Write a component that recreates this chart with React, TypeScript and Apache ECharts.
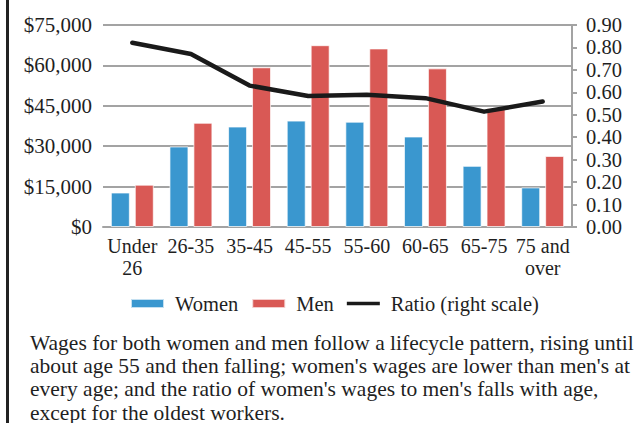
import React, { useEffect, useRef } from "react";
import * as echarts from "echarts";

const categories = ["Under\n26", "26-35", "35-45", "45-55", "55-60", "60-65", "65-75", "75 and\nover"];
const women = [12800, 29900, 37300, 39500, 39100, 33600, 22700, 14700];
const men = [15700, 38700, 59300, 67500, 66300, 58900, 44100, 26400];
const ratio = [0.821, 0.771, 0.63, 0.584, 0.589, 0.574, 0.514, 0.559];
const captionLines = [
  "Wages for both women and men follow a lifecycle pattern, rising until",
  "about age 55 and then falling; women's wages are lower than men's at",
  "every age; and the ratio of women's wages to men's falls with age,",
  "except for the oldest workers.",
];

const FONT = "'Liberation Serif', 'Times New Roman', serif";
const TEXT = "#1f1f1f";
const GRAY = "#a3a3a3";

export default function App() {
  const ref = useRef<HTMLDivElement>(null);
  useEffect(() => {
    if (!ref.current) return;
    const chart = echarts.init(ref.current, undefined, { renderer: "svg" });
    chart.setOption({
      animation: false,
      backgroundColor: "#ffffff",
      textStyle: { fontFamily: FONT, color: TEXT },
      grid: { left: 103, right: 67, top: 25, bottom: 196 },
      legend: {
        left: 130,
        top: 293,
        padding: 0,
        itemWidth: 33,
        itemHeight: 9,
        itemGap: 13,
        textStyle: { fontFamily: FONT, fontSize: 20.5, color: TEXT, padding: [0, 0, 0, 6] },
        data: [
          { name: "Women", icon: "rect" },
          { name: "Men", icon: "rect" },
          { name: "Ratio (right scale)", icon: "path://M0,0 L36,0 L36,4 L0,4 Z" },
        ],
      },
      xAxis: {
        type: "category",
        data: categories,
        axisLine: { lineStyle: { color: GRAY, width: 2 } },
        axisTick: { show: false },
        axisLabel: {
          fontFamily: FONT,
          fontSize: 20,
          color: TEXT,
          lineHeight: 22,
          margin: 8,
          interval: 0,
        },
      },
      yAxis: [
        {
          type: "value",
          min: 0,
          max: 75000,
          interval: 15000,
          axisLine: { show: false },
          axisTick: { show: false },
          splitLine: { lineStyle: { color: GRAY, width: 2 } },
          axisLabel: {
            fontFamily: FONT,
            fontSize: 21,
            color: TEXT,
            margin: 11,
            formatter: (v: number) => "$" + v.toLocaleString("en-US"),
          },
        },
        {
          type: "value",
          position: "right",
          min: 0,
          max: 0.9,
          interval: 0.1,
          splitLine: { show: false },
          axisLine: { show: true, lineStyle: { color: GRAY, width: 2 } },
          axisTick: { show: true, length: 5, lineStyle: { color: GRAY, width: 2 } },
          axisLabel: {
            fontFamily: FONT,
            fontSize: 20.5,
            color: TEXT,
            margin: 14,
            formatter: (v: number) => v.toFixed(2),
          },
        },
      ],
      series: [
        {
          name: "Women",
          type: "bar",
          data: women,
          barWidth: 19,
          barGap: "26%",
          itemStyle: { color: "#3a97cf", borderColor: "rgba(255,255,255,0.7)", borderWidth: 1 },
        },
        {
          name: "Men",
          type: "bar",
          data: men,
          barWidth: 19,
          itemStyle: { color: "#d95955", borderColor: "rgba(255,255,255,0.7)", borderWidth: 1 },
        },
        {
          name: "Ratio (right scale)",
          type: "line",
          yAxisIndex: 1,
          data: ratio,
          symbol: "none",
          lineStyle: { color: "#1a1a1a", width: 4.5, join: "round", cap: "round" },
          itemStyle: { color: "#1a1a1a" },
        },
      ],
      graphic: [
        {
          type: "rect",
          shape: { x: 6, y: 0, width: 3, height: 423 },
          style: { fill: "#222222" },
        },
        {
          type: "text",
          x: 30,
          y: 331,
          style: {
            text: captionLines.join("\n"),
            fontFamily: FONT,
            fontSize: 21.5,
            lineHeight: 23.3,
            fill: TEXT,
            textVerticalAlign: "top",
          },
        },
      ],
    });
    return () => chart.dispose();
  }, []);
  return (
    <div
      ref={ref}
      style={{ position: "fixed", left: 0, top: 0, width: 639, height: 423, background: "#fff" }}
    />
  );
}
